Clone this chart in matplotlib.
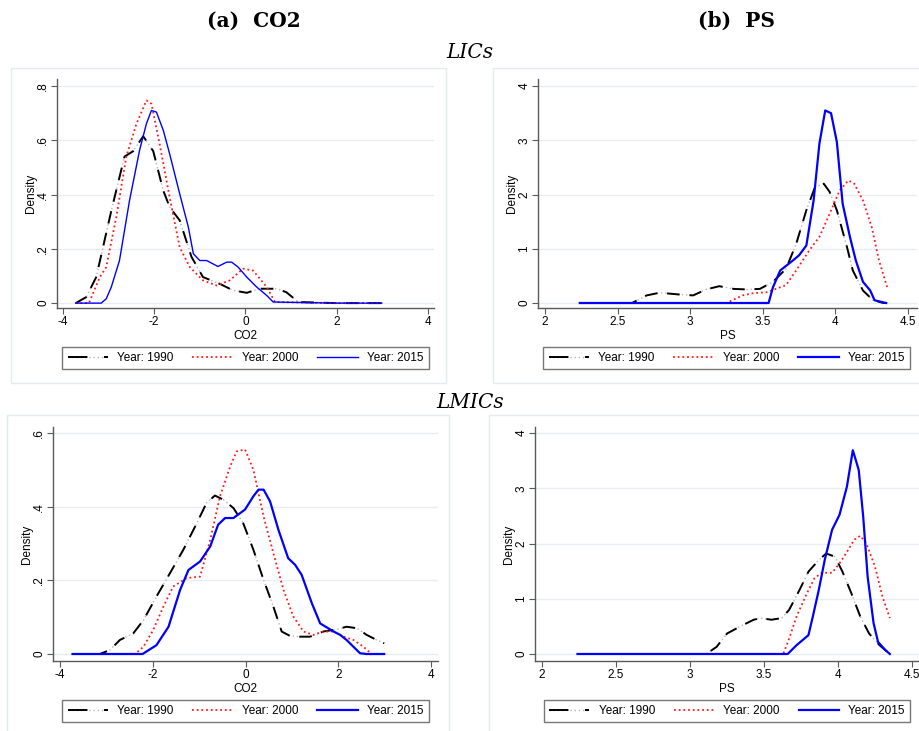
import numpy as np
import matplotlib
matplotlib.use("Agg")
import matplotlib.pyplot as plt
from matplotlib.patches import Rectangle
from matplotlib.lines import Line2D
from matplotlib.legend_handler import HandlerTuple

plt.rcParams['font.family'] = ['Liberation Sans', 'DejaVu Sans']

W, H = 919, 731

# ---- data (kernel densities) ----
years = ["Year: 1990", "Year: 2000", "Year: 2015"]

# (a) CO2, LICs
co2_lic_x90 = [-3.72, -3.49, -3.27, -2.94, -2.65, -2.46, -2.24, -2.02, -1.80, -1.66, -1.44, -1.18, -0.93, -0.56, -0.27, 0.03, 0.32, 0.69, 0.90, 1.16, 2.0, 2.99]
co2_lic_y90 = [0, 0.022, 0.096, 0.34, 0.54, 0.56, 0.615, 0.56, 0.415, 0.354, 0.305, 0.17, 0.096, 0.071, 0.047, 0.038, 0.053, 0.053, 0.04, 0.004, 0, 0]
co2_lic_x00 = [-3.72, -3.43, -3.19, -3.05, -2.83, -2.61, -2.39, -2.17, -2.06, -1.88, -1.66, -1.44, -1.22, -0.93, -0.63, -0.34, -0.05, 0.17, 0.47, 0.65, 2.0, 2.99]
co2_lic_y00 = [0, 0, 0.096, 0.133, 0.317, 0.54, 0.66, 0.747, 0.735, 0.587, 0.39, 0.206, 0.133, 0.084, 0.065, 0.084, 0.127, 0.12, 0.059, 0.004, 0, 0]
co2_lic_x15 = [-3.72, -3.16, -3.05, -2.94, -2.76, -2.54, -2.32, -2.17, -2.06, -1.95, -1.80, -1.66, -1.44, -1.25, -1.14, -1.0, -0.85, -0.60, -0.41, -0.30, -0.16, 0.03, 0.25, 0.47, 0.61, 2.0, 2.99]
co2_lic_y15 = [0, 0, 0.016, 0.059, 0.157, 0.378, 0.563, 0.661, 0.71, 0.704, 0.637, 0.55, 0.403, 0.28, 0.182, 0.157, 0.157, 0.135, 0.151, 0.151, 0.133, 0.096, 0.059, 0.028, 0.004, 0, 0]

# (b) PS, LICs
ps_lic_x90 = [2.24, 2.60, 2.70, 2.79, 2.91, 3.02, 3.11, 3.20, 3.30, 3.39, 3.48, 3.57, 3.66, 3.73, 3.80, 3.86, 3.92, 3.96, 4.01, 4.08, 4.12, 4.19, 4.26, 4.33, 4.35]
ps_lic_y90 = [0, 0, 0.14, 0.19, 0.16, 0.14, 0.25, 0.31, 0.26, 0.25, 0.26, 0.39, 0.63, 1.09, 1.71, 2.14, 2.20, 2.05, 1.71, 1.03, 0.60, 0.23, 0.05, 0, 0]
ps_lic_x00 = [2.24, 3.25, 3.36, 3.43, 3.53, 3.59, 3.66, 3.73, 3.82, 3.89, 3.94, 3.98, 4.03, 4.09, 4.13, 4.19, 4.25, 4.30, 4.36]
ps_lic_y00 = [0, 0, 0.14, 0.18, 0.20, 0.26, 0.33, 0.60, 0.97, 1.22, 1.52, 1.77, 2.08, 2.26, 2.20, 1.89, 1.40, 0.79, 0.26]
ps_lic_x15 = [2.24, 3.54, 3.57, 3.62, 3.71, 3.75, 3.80, 3.85, 3.89, 3.93, 3.97, 4.01, 4.05, 4.10, 4.14, 4.19, 4.24, 4.27, 4.35]
ps_lic_y15 = [0, 0, 0.29, 0.60, 0.79, 0.88, 1.06, 1.89, 2.94, 3.55, 3.50, 2.97, 1.83, 1.22, 0.79, 0.39, 0.23, 0.05, 0]

# (a) CO2, LMICs
co2_lmic_x90 = [-3.73, -3.14, -2.92, -2.71, -2.42, -2.20, -1.92, -1.63, -1.34, -1.05, -0.84, -0.66, -0.48, -0.26, -0.05, 0.17, 0.39, 0.60, 0.78, 0.96, 1.18, 1.39, 1.68, 1.97, 2.18, 2.40, 2.61, 2.83, 2.99]
co2_lmic_y90 = [0, 0, 0.011, 0.038, 0.056, 0.092, 0.156, 0.219, 0.283, 0.355, 0.41, 0.43, 0.419, 0.396, 0.355, 0.283, 0.201, 0.129, 0.061, 0.049, 0.047, 0.047, 0.061, 0.067, 0.074, 0.070, 0.052, 0.038, 0.029]
co2_lmic_x00 = [-3.73, -2.38, -2.20, -1.99, -1.77, -1.56, -1.27, -0.98, -0.76, -0.55, -0.33, -0.19, -0.01, 0.17, 0.39, 0.60, 0.82, 1.03, 1.25, 1.46, 1.68, 1.90, 2.11, 2.33, 2.54, 2.72, 2.99]
co2_lmic_y00 = [0, 0, 0.02, 0.065, 0.129, 0.183, 0.206, 0.21, 0.31, 0.428, 0.509, 0.55, 0.555, 0.50, 0.373, 0.274, 0.174, 0.102, 0.061, 0.052, 0.061, 0.061, 0.047, 0.038, 0.02, 0, 0]
co2_lmic_x15 = [-3.73, -2.22, -1.92, -1.66, -1.41, -1.23, -0.98, -0.76, -0.59, -0.44, -0.26, -0.01, 0.17, 0.28, 0.39, 0.53, 0.71, 0.92, 1.07, 1.21, 1.43, 1.61, 1.90, 2.04, 2.18, 2.47, 2.61, 2.99]
co2_lmic_y15 = [0, 0, 0.024, 0.074, 0.174, 0.228, 0.251, 0.292, 0.351, 0.369, 0.369, 0.392, 0.428, 0.446, 0.446, 0.414, 0.337, 0.26, 0.242, 0.215, 0.138, 0.083, 0.061, 0.052, 0.038, 0.002, 0, 0]

# (b) PS, LMICs
ps_lmic_x90 = [2.24, 3.11, 3.18, 3.25, 3.34, 3.43, 3.48, 3.55, 3.62, 3.67, 3.74, 3.80, 3.87, 3.92, 3.98, 4.03, 4.09, 4.15, 4.21, 4.28, 4.35]
ps_lmic_y90 = [0, 0, 0.13, 0.37, 0.50, 0.62, 0.65, 0.62, 0.65, 0.80, 1.16, 1.49, 1.70, 1.82, 1.76, 1.49, 1.10, 0.68, 0.37, 0.16, 0]
ps_lmic_x00 = [2.24, 3.63, 3.67, 3.72, 3.79, 3.84, 3.89, 3.96, 4.01, 4.07, 4.11, 4.15, 4.19, 4.25, 4.30, 4.35]
ps_lmic_y00 = [0, 0, 0.28, 0.68, 1.10, 1.37, 1.47, 1.47, 1.64, 1.89, 2.07, 2.14, 2.01, 1.58, 1.04, 0.65]
ps_lmic_x15 = [2.24, 3.66, 3.72, 3.80, 3.83, 3.87, 3.91, 3.96, 4.01, 4.06, 4.10, 4.14, 4.17, 4.20, 4.24, 4.27, 4.32, 4.35]
ps_lmic_y15 = [0, 0, 0.16, 0.34, 0.68, 1.16, 1.70, 2.25, 2.52, 3.03, 3.69, 3.33, 2.49, 1.40, 0.56, 0.22, 0.07, 0]

co2_ticks = [-4, -2, 0, 2, 4]
co2_yticks = [0, 0.2, 0.4, 0.6, 0.8]
co2_yticklabels = ["0", ".2", ".4", ".6", ".8"]
ps_ticks = [2, 2.5, 3, 3.5, 4, 4.5]
ps_xticklabels = ["2", "2.5", "3", "3.5", "4", "4.5"]
ps_yticks = [0, 1, 2, 3, 4]

GRID = '#e6eff0'
AXC = '#5a5a5a'

fig = plt.figure(figsize=(W / 100, H / 100), dpi=100)


def px_axes(left, right, top, bottom):
    # pixel box -> figure fraction
    return fig.add_axes([left / W, 1 - bottom / H, (right - left) / W, (bottom - top) / H])


def frame(left, right, top, bottom):
    fig.patches.append(Rectangle((left / W, 1 - bottom / H), (right - left) / W, (bottom - top) / H,
                                 transform=fig.transFigure, fill=False, edgecolor='#e3ecee', lw=1.0))


def panel(ax, data, xlim, ylim, xticks, xticklabels, yticks, yticklabels, yvisible, xlabel, blue_lw, leg_center):
    (x90, y90), (x00, y00), (x15, y15) = data
    ax.set_xlim(*xlim)
    ax.set_ylim(*ylim)
    for y in yticks:
        if y <= yvisible:
            ax.axhline(y, color=GRID, lw=1.0, zorder=0)
    ax.plot(x90, y90, color='#b5b5b5', lw=1.0, linestyle=(0, (1, 2)), zorder=2)
    ax.plot(x90, y90, color='black', lw=1.4, linestyle=(0, (6.5, 5)), zorder=3)
    r, = ax.plot(x00, y00, color='#ff1a1a', lw=1.3, linestyle=(0, (1, 1.6)), zorder=3)
    b, = ax.plot(x15, y15, color='#0000ff', lw=blue_lw, zorder=4)

    ax.spines['top'].set_visible(False)
    ax.spines['right'].set_visible(False)
    for s in ('left', 'bottom'):
        ax.spines[s].set_color(AXC)
        ax.spines[s].set_linewidth(1.0)
    ax.set_xticks(xticks)
    ax.set_xticklabels(xticklabels)
    ax.set_yticks(yticks)
    ax.set_yticklabels(yticklabels, rotation=90, va='center')
    ax.tick_params(direction='out', length=4, width=0.8, color=AXC, labelsize=8.5, pad=2)
    ax.tick_params(axis='y', pad=1.5)
    ax.set_xlabel(xlabel, fontsize=8.5, labelpad=1)
    ax.set_ylabel("Density", fontsize=8.5, labelpad=0.5)

    # legend key for 1990: dash, grey dots, dash (both drawn over the full key width)
    g_key = Line2D([], [], color='#b5b5b5', lw=1.0, linestyle=(0, (1, 2)))
    k_key = Line2D([], [], color='black', lw=1.4, linestyle=(0, (10, 8.5)))
    leg = ax.legend([(g_key, k_key), r, b], years, handler_map={tuple: HandlerTuple(ndivide=1, pad=0)},
                    loc='center', bbox_to_anchor=(leg_center[0] / W, 1 - leg_center[1] / H),
                    bbox_transform=fig.transFigure, ncol=3, fontsize=8.5, frameon=True,
                    fancybox=False, edgecolor='#555555', handlelength=3.4, handletextpad=0.8,
                    columnspacing=1.6, borderpad=0.45, borderaxespad=0)
    leg.get_frame().set_linewidth(1.0)


# outer Stata graph frames
frame(11, 446, 68, 383)
frame(493, 930, 68, 383)
frame(7, 449, 415, 745)
frame(489, 930, 415, 745)

ax1 = px_axes(57, 434, 79, 308)
panel(ax1, [(co2_lic_x90, co2_lic_y90), (co2_lic_x00, co2_lic_y00), (co2_lic_x15, co2_lic_y15)],
      (-4.13, 4.136), (-0.018, 0.826), co2_ticks, [str(t) for t in co2_ticks],
      co2_yticks, co2_yticklabels, 0.8, "CO2", 1.0, (245.5, 358))

ax2 = px_axes(538, 917, 79, 308)
panel(ax2, [(ps_lic_x90, ps_lic_y90), (ps_lic_x00, ps_lic_y00), (ps_lic_x15, ps_lic_y15)],
      (1.952, 4.562), (-0.092, 4.13), ps_ticks, ps_xticklabels,
      ps_yticks, [str(t) for t in ps_yticks], 4, "PS", 1.6, (726.5, 358))

ax3 = px_axes(53, 438, 427, 661)
panel(ax3, [(co2_lmic_x90, co2_lmic_y90), (co2_lmic_x00, co2_lmic_y00), (co2_lmic_x15, co2_lmic_y15)],
      (-4.151, 4.151), (-0.019, 0.616), co2_ticks, [str(t) for t in co2_ticks],
      [0, 0.2, 0.4, 0.6], ["0", ".2", ".4", ".6"], 0.6, "CO2", 1.6, (245.5, 711))

ax4 = px_axes(535, 919, 427, 661)
panel(ax4, [(ps_lmic_x90, ps_lmic_y90), (ps_lmic_x00, ps_lmic_y00), (ps_lmic_x15, ps_lmic_y15)],
      (1.953, 4.547), (-0.127, 4.11), ps_ticks, ps_xticklabels,
      ps_yticks, [str(t) for t in ps_yticks], 4, "PS", 1.6, (727, 711))

# headings
fig.text(254 / W, 1 - 21 / H, "(a)  CO2", family='DejaVu Serif', weight='bold', fontsize=14.5, ha='center', va='center')
fig.text(736 / W, 1 - 21 / H, "(b)  PS", family='DejaVu Serif', weight='bold', fontsize=14.5, ha='center', va='center')
fig.text(470 / W, 1 - 53 / H, "LICs", family='DejaVu Serif', style='italic', fontsize=14.5, ha='center', va='center')
fig.text(470 / W, 1 - 403 / H, "LMICs", family='DejaVu Serif', style='italic', fontsize=14.5, ha='center', va='center')

fig.savefig("out.png", dpi=100, facecolor='white')
